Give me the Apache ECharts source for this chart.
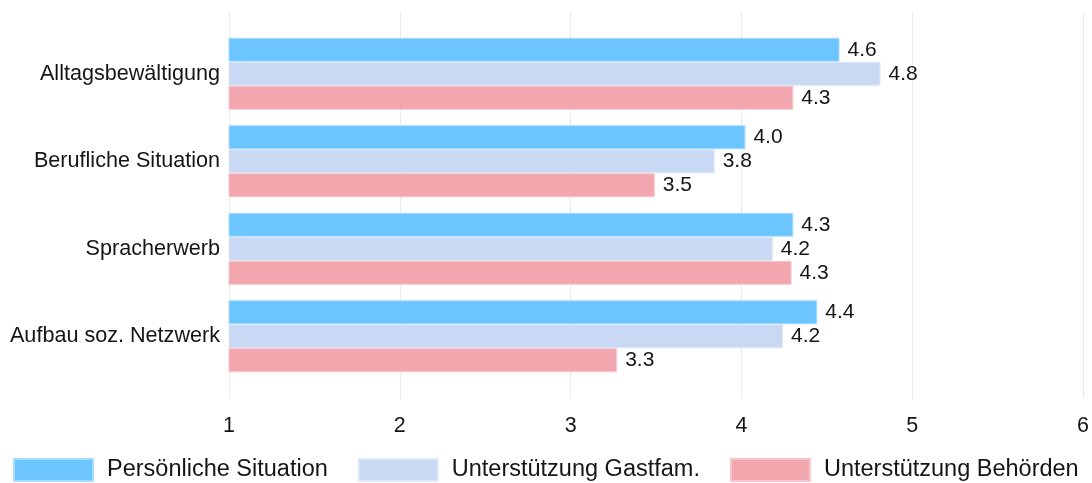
<!DOCTYPE html>
<html>
<head>
<meta charset="utf-8">
<script src="https://cdn.jsdelivr.net/npm/echarts@6/dist/echarts.min.js"></script>
<style>
html,body{margin:0;padding:0;background:#fff;}
#chart{width:1092px;height:483px;}
</style>
</head>
<body>
<div id="chart"></div>
<script>
const categories = ['Alltagsbewältigung', 'Berufliche Situation', 'Spracherwerb', 'Aufbau soz. Netzwerk'];
const seriesNames = ['Persönliche Situation', 'Unterstützung Gastfam.', 'Unterstützung Behörden'];
const persoenlich = [4.57, 4.02, 4.30, 4.44];
const gastfam = [4.81, 3.84, 4.18, 4.24];
const behoerden = [4.30, 3.49, 4.29, 3.27];
const xTicks = [1, 2, 3, 4, 5, 6];

const font = 'Liberation Sans, Arial, sans-serif';
const textColor = '#151515';
const colors = ['#6CC5FF', '#C9D9F4', '#F2A6AE'];
const borders = ['#A6DCFF', '#DDE8F8', '#F7C6CB'];
const values = [persoenlich, gastfam, behoerden];

const chart = echarts.init(document.getElementById('chart'), null, {renderer: 'canvas'});
chart.setOption({
  backgroundColor: '#ffffff',
  animation: false,
  textStyle: {fontFamily: font},
  legend: {
    left: 13,
    bottom: 1,
    padding: 0,
    itemWidth: 79,
    itemHeight: 22,
    itemGap: 30,
    icon: 'rect',
    textStyle: {fontSize: 23.5, color: textColor, fontFamily: font, padding: [0, 0, 0, 9]},
    data: seriesNames
  },
  grid: [
    {left: 229, right: 8, top: 12, height: 386},
    {left: 229, right: 8, top: 30, height: 350}
  ],
  xAxis: [
    {
      gridIndex: 0, type: 'value', min: xTicks[0], max: xTicks[xTicks.length - 1], interval: 1,
      axisLine: {show: false}, axisTick: {show: false},
      splitLine: {show: true, lineStyle: {color: '#EAEAEA', width: 1}},
      axisLabel: {fontSize: 21.5, color: textColor, margin: 17, fontFamily: font}
    },
    {
      gridIndex: 1, type: 'value', min: xTicks[0], max: xTicks[xTicks.length - 1], interval: 1,
      show: false, splitLine: {show: false}
    }
  ],
  yAxis: [
    {gridIndex: 0, type: 'value', show: false, splitLine: {show: false}},
    {
      gridIndex: 1, type: 'category', data: categories, inverse: true,
      axisLine: {show: false}, axisTick: {show: false},
      splitLine: {show: false},
      axisLabel: {fontSize: 21.6, color: textColor, margin: 9, fontFamily: font}
    }
  ],
  series: seriesNames.map((name, i) => ({
    name: name,
    type: 'bar',
    xAxisIndex: 1,
    yAxisIndex: 1,
    data: values[i],
    barWidth: 24,
    barGap: '0%',
    itemStyle: {color: colors[i], borderColor: borders[i], borderWidth: 1},
    label: {
      show: true, position: 'right', distance: 8,
      fontSize: 21, color: textColor, fontFamily: font,
      formatter: p => p.value.toFixed(1)
    }
  }))
});
</script>
</body>
</html>
